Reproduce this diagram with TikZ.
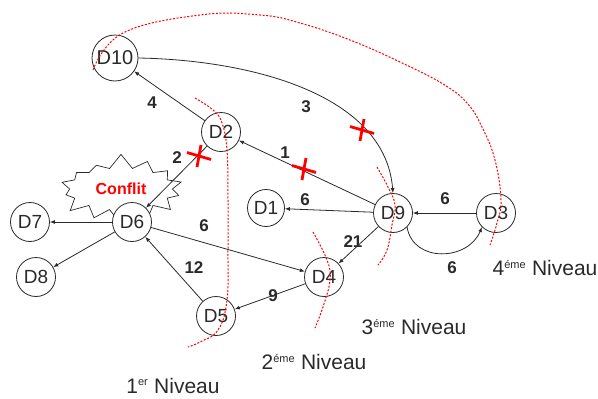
\documentclass[tikz,border=0pt]{standalone}
\usepackage{fontspec}
\setmainfont{Liberation Sans}
\usetikzlibrary{arrows.meta,shapes.symbols}
\definecolor{ink}{HTML}{2A2A2A}
\begin{document}
\begin{tikzpicture}[x=1pt,y=-1pt,
  dnode/.style={circle,draw=ink,line width=0.8pt,fill=white,inner sep=0pt,minimum size=39pt,text=ink,font=\fontsize{19}{19}\selectfont},
  edge/.style={draw=ink,line width=0.8pt,-{Latex[length=5pt,width=4pt]}},
  wlabel/.style={text=ink,font=\bfseries\fontsize{17}{17}\selectfont,inner sep=0pt},
  level/.style={text=ink,font=\fontsize{21}{21}\selectfont,inner sep=0pt},
  reddot/.style={draw=red,line width=1pt,dash pattern=on 2pt off 1.6pt},
  redx/.pic={\draw[red,line width=2.8pt] (-12,-3.5)--(12,3.5) (2,-11)--(-2,11);}
]
\useasboundingbox (0,0) rectangle (598,399);

% conflict starburst
\node[starburst,draw=ink,line width=0.7pt,starburst points=14,starburst point height=15pt,random starburst=7,inner xsep=11pt,inner ysep=9pt,text=red,font=\bfseries\fontsize{16}{16}\selectfont] (conf) at (121,189) {Conflit};

% nodes
\node[dnode,minimum size=46pt,font=\fontsize{20}{20}\selectfont] (D10) at (115,58) {D10};
\node[dnode] (D2) at (221,132) {D2};
\node[dnode] (D6) at (132,222) {D6};
\node[dnode] (D7) at (30,222) {D7};
\node[dnode] (D8) at (36,277) {D8};
\node[dnode,minimum size=37pt] (D1) at (266,208) {D1};
\node[dnode] (D9) at (393,213) {D9};
\node[dnode] (D3) at (496,213) {D3};
\node[dnode] (D4) at (324,277) {D4};
\node[dnode] (D5) at (216,316) {D5};

% edges
\draw[edge] (D2) -- (D10);
\draw[edge] (D10.east) .. controls +(112,2) and +(-8,-99) .. (D9.north);
\draw[edge] (D9) -- (D2);
\draw[edge] (D2) -- (D6);
\draw[edge] (D6) -- (D7);
\draw[edge] (D6) -- (D8);
\draw[edge] (D5) -- (D6);
\draw[edge] (D6) -- (D4);
\draw[edge] (D4) -- (D5);
\draw[edge] (D9) -- (D1);
\draw[edge] (D9) -- (D4);
\draw[edge] (D3) -- (D9);
\draw[edge] (D9.-45) .. controls +(6,36) and +(-14,34) .. (D3.-135);

% weights
\node[wlabel] (w4) at (152,103) {4};
\node[wlabel] (w3) at (306,107) {3};
\node[wlabel] (w1) at (285,153) {1};
\node[wlabel] (w2) at (177,158) {2};
\node[wlabel] (w6a) at (305,200) {6};
\node[wlabel] (w21) at (353,242) {21};
\node[wlabel] (w6b) at (445,199) {6};
\node[wlabel] (w6c) at (452,268) {6};
\node[wlabel] (w6d) at (204,226) {6};
\node[wlabel] (w12) at (194,268) {12};
\node[wlabel] (w9) at (273,296) {9};

% levels
\node[level] (L1) at (173,386) {1\textsuperscript{\fontsize{11}{11}\selectfont er} Niveau};
\node[level] (L2) at (314,362) {2\textsuperscript{\fontsize{11}{11}\selectfont éme} Niveau};
\node[level] (L3) at (414,327) {3\textsuperscript{\fontsize{11}{11}\selectfont éme} Niveau};
\node[level] (L4) at (545,268) {4\textsuperscript{\fontsize{11}{11}\selectfont éme} Niveau};

% red dotted level boundaries
\draw[reddot] plot[smooth,tension=0.7] coordinates{(93,70) (123,33) (200,15) (260,15) (300,23) (350,40) (400,62) (443,84) (467,103) (482,127) (495,160) (501,200) (497,223) (490,245)};
\draw[reddot] plot[smooth,tension=0.7] coordinates{(195,98) (213,110) (222,123) (227,150) (228,200) (228,250) (227,300) (218,330) (200,342) (188,347)};
\draw[reddot] plot[smooth,tension=0.7] coordinates{(313,232) (327,260) (330,280) (323,307) (315,328)};
\draw[reddot] plot[smooth,tension=0.7] coordinates{(377,167) (388,187) (395,205) (392,225) (387,250) (378,265)};

% crosses
\pic at (199,156) {redx};
\pic at (362,130) {redx};
\pic at (304,169) {redx};
\end{tikzpicture}
\end{document}
